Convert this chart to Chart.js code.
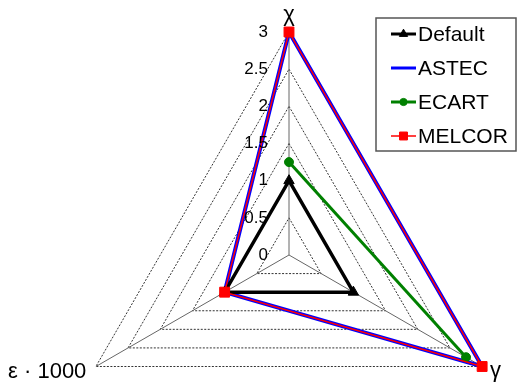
<!DOCTYPE html>
<html>
<head>
<meta charset="utf-8">
<script src="https://cdn.jsdelivr.net/npm/chart.js@4.4.0/dist/chart.umd.min.js"></script>
<style>
  html, body { margin: 0; padding: 0; background: #fff; overflow: hidden; }
  #wrap { position: relative; width: 520px; height: 387px; overflow: hidden; }
  #c { display: block; }
</style>
</head>
<body>
<div id="wrap"><canvas id="c" width="520" height="480"></canvas></div>
<script>
// Axes of the radar and the values read along them
const axisLabels = ['χ', 'γ', 'ε · 1000'];
const tickValues = [0, 0.5, 1, 1.5, 2, 2.5, 3];
const seriesNames = ['Default', 'ASTEC', 'ECART', 'MELCOR'];
const defaultValues = [1, 1, 1];
const astecValues = [3, 3, 1];
const ecartValues = [1.25, 2.75, null];
const melcorValues = [3, 3, 1];

const FONT = "'Liberation Sans', Arial, sans-serif";

// Axis titles placed just beyond the end of each spoke
const axisTitles = {
  id: 'axisTitles',
  afterDraw(chart, args, o) {
    const s = chart.scales.r;
    const ctx = chart.ctx;
    ctx.save();
    ctx.fillStyle = '#000';
    ctx.font = o.font;
    ctx.textBaseline = 'middle';
    chart.data.labels.forEach((lab, i) => {
      const p = s.getPointPosition(i, s.drawingArea + o.gap[i]);
      ctx.textAlign = Math.abs(p.x - s.xCenter) < 1 ? 'center' : (p.x > s.xCenter ? 'left' : 'right');
      ctx.fillText(lab, p.x, p.y);
    });
    ctx.restore();
  }
};

// Value labels to the left of the vertical spoke, including zero
const tickText = {
  id: 'tickText',
  afterDraw(chart, args, o) {
    const s = chart.scales.r;
    const ctx = chart.ctx;
    ctx.save();
    ctx.fillStyle = '#000';
    ctx.font = o.font;
    ctx.textAlign = 'right';
    ctx.textBaseline = 'middle';
    tickValues.forEach(v => {
      const y = s.yCenter - s.getDistanceFromCenterForValue(v);
      ctx.fillText(String(v), s.xCenter - o.offset, y);
    });
    ctx.restore();
  }
};

// Framed legend with line + marker samples
const boxLegend = {
  id: 'boxLegend',
  afterDraw(chart, args, o) {
    const ctx = chart.ctx;
    ctx.save();
    ctx.fillStyle = '#fff';
    ctx.fillRect(o.x, o.y, o.w, o.h);
    ctx.strokeStyle = '#555';
    ctx.lineWidth = 1.5;
    ctx.strokeRect(o.x, o.y, o.w, o.h);
    ctx.font = o.font;
    ctx.textAlign = 'left';
    ctx.textBaseline = 'middle';
    chart.data.datasets.forEach((ds, i) => {
      const y = o.y + o.first + i * o.gap;
      const x0 = o.x + 15, x1 = o.x + 40;
      ctx.strokeStyle = ds.borderColor;
      ctx.lineWidth = Math.min(ds.borderWidth, 3);
      ctx.beginPath();
      ctx.moveTo(x0, y);
      ctx.lineTo(x1, y);
      ctx.stroke();
      if (ds.pointRadius > 0) {
        ctx.fillStyle = ds.borderColor;
        ctx.lineWidth = 1;
        Chart.helpers.drawPoint(ctx, {
          pointStyle: ds.pointStyle,
          radius: ds.pointRadius * 0.8,
          borderWidth: 1,
          rotation: 0
        }, (x0 + x1) / 2, y);
      }
      ctx.fillStyle = '#000';
      ctx.fillText(ds.label, o.x + 42, y + 1);
    });
    ctx.restore();
  }
};

new Chart(document.getElementById('c'), {
  type: 'radar',
  data: {
    labels: axisLabels,
    datasets: [
      {
        label: seriesNames[0], data: defaultValues,
        borderColor: '#000', backgroundColor: '#000',
        borderWidth: 3.5, pointStyle: 'triangle', pointRadius: 6,
        pointBackgroundColor: '#000', pointBorderColor: '#000', pointBorderWidth: 1,
        fill: false, order: 1
      },
      {
        label: seriesNames[1], data: astecValues,
        borderColor: '#0000ff', backgroundColor: '#0000ff',
        borderWidth: 4, pointRadius: 0,
        fill: false, order: 3
      },
      {
        label: seriesNames[2], data: ecartValues,
        borderColor: '#008000', backgroundColor: '#008000',
        borderWidth: 3, pointStyle: 'circle', pointRadius: 4.5,
        pointBackgroundColor: '#008000', pointBorderColor: '#008000', pointBorderWidth: 1,
        fill: false, spanGaps: false, order: 2
      },
      {
        label: seriesNames[3], data: melcorValues,
        borderColor: '#ff0000', backgroundColor: '#ff0000',
        borderWidth: 1.5, pointStyle: 'rect', pointRadius: 7,
        pointBackgroundColor: '#ff0000', pointBorderColor: '#ff0000', pointBorderWidth: 1,
        fill: false, order: 0
      }
    ]
  },
  options: {
    responsive: false,
    animation: false,
    devicePixelRatio: 1,
    clip: false,
    elements: { line: { tension: 0 } },
    layout: { padding: { left: 66, top: 32, right: 8, bottom: 2 } },
    scales: {
      r: {
        min: 0,
        max: 3,
        startAngle: 0,
        ticks: { stepSize: 0.5, display: false },
        pointLabels: { display: false },
        grid: { color: '#333', lineWidth: 1 },
        border: { dash: [2, 1.5] },
        angleLines: { color: '#666', lineWidth: 1 }
      }
    },
    plugins: {
      legend: { display: false },
      tooltip: { enabled: false },
      axisTitles: { font: '22px ' + FONT, gap: [17, 9, 11] },
      tickText: { font: '17px ' + FONT, offset: 21 },
      boxLegend: { x: 376, y: 18, w: 140, h: 133, first: 16, gap: 34, font: '21px ' + FONT }
    }
  },
  plugins: [axisTitles, tickText, boxLegend]
});
</script>
</body>
</html>
